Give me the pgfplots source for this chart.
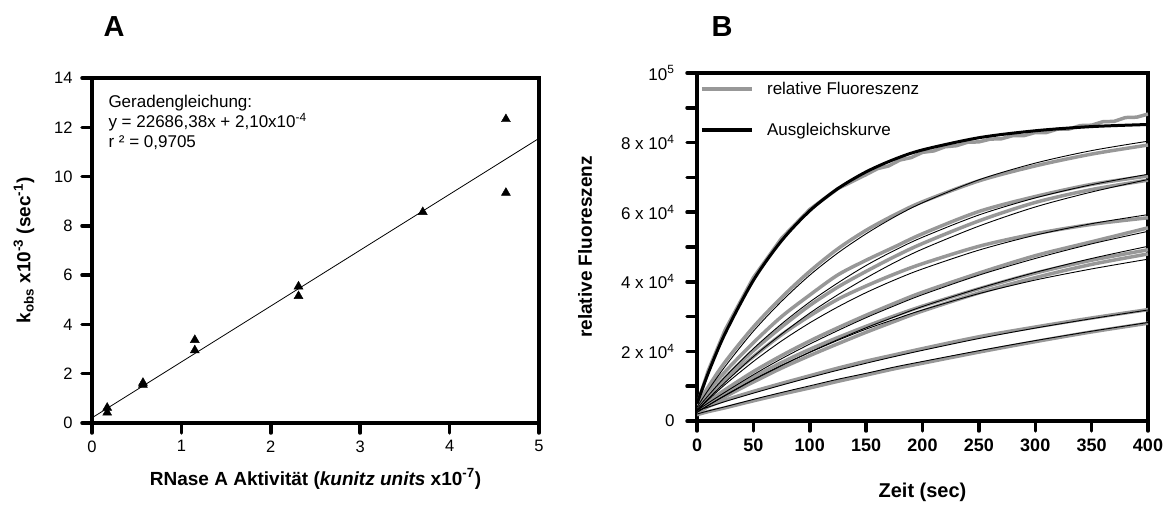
\documentclass[border=0pt]{standalone}
\usepackage{pgfplots}
\usepackage{pgfplotstable}
\pgfplotsset{compat=1.18}
\usepackage{fontspec}
\setmainfont{Liberation Sans}

\newcommand{\fsz}[1]{\fontsize{#1bp}{#1bp}\selectfont}
\definecolor{datagray}{RGB}{152,152,152}

% k_obs against RNase A activity
\pgfplotstableread{
x     y
0.17  0.62
0.17  0.42
0.57  1.63
0.57  1.55
1.15  3.37
1.15  2.95
2.31  5.54
2.31  5.15
3.70  8.56
4.63  12.33
4.63  9.34
}\rateconstants

% fluorescence traces (g) and fitted curves (f), in units of 10^4
\pgfplotstableread{
t    f1   f2   f3   f4   f5   f6   f7   f8   f9   f10  g2   g3   g4   g5   g6   g7   g8   g9   g10
0    0.50 0.40 0.35 0.30 0.30 0.30 0.25 0.25 0.30 0.20 0.45 0.40 0.30 0.30 0.32 0.25 0.22 0.30 0.18
10   1.38 0.89 0.73 0.64 0.61 0.52 0.45 0.45 0.40 0.29 0.98 0.85 0.70 0.68 0.56 0.50 0.42 0.42 0.27
25   2.52 1.57 1.27 1.11 1.05 0.83 0.73 0.74 0.56 0.41 1.70 1.42 1.25 1.18 0.90 0.80 0.70 0.60 0.38
50   4.04 2.58 2.08 1.85 1.71 1.33 1.18 1.19 0.80 0.62 2.70 2.25 2.02 1.85 1.42 1.26 1.12 0.85 0.58
75   5.18 3.44 2.79 2.50 2.30 1.79 1.59 1.60 1.03 0.82 3.55 3.00 2.70 2.48 1.88 1.68 1.52 1.08 0.77
100  6.04 4.19 3.42 3.10 2.82 2.21 1.98 1.97 1.25 1.01 4.30 3.62 3.32 3.02 2.30 2.06 1.88 1.30 0.95
125  6.68 4.83 3.97 3.63 3.28 2.60 2.34 2.32 1.46 1.20 4.95 4.20 3.85 3.50 2.68 2.40 2.22 1.52 1.14
150  7.16 5.38 4.47 4.11 3.69 2.97 2.68 2.64 1.66 1.37 5.48 4.62 4.30 3.88 3.04 2.72 2.55 1.72 1.32
175  7.52 5.86 4.90 4.55 4.05 3.31 2.99 2.92 1.85 1.55 5.92 5.00 4.72 4.22 3.38 3.02 2.86 1.90 1.50
200  7.79 6.27 5.28 4.94 4.37 3.63 3.29 3.19 2.03 1.71 6.30 5.38 5.10 4.52 3.70 3.30 3.16 2.08 1.66
250  8.14 6.93 5.92 5.60 4.91 4.19 3.81 3.66 2.37 2.02 6.90 6.02 5.75 5.02 4.25 3.80 3.68 2.42 1.98
300  8.34 7.41 6.41 6.15 5.34 4.67 4.27 4.05 2.67 2.31 7.33 6.45 6.28 5.38 4.75 4.25 4.12 2.70 2.28
350  8.46 7.77 6.79 6.58 5.67 5.09 4.67 4.37 2.94 2.58 7.67 6.80 6.65 5.65 5.15 4.62 4.50 2.96 2.56
400  8.52 8.04 7.09 6.94 5.93 5.45 5.02 4.65 3.19 2.83 7.93 7.04 6.92 5.84 5.55 4.92 4.80 3.20 2.81
}\kinetics

% fastest trace, recorded more densely
\pgfplotstableread{
t    g
0    0.45
10   1.45
25   2.62
50   4.12
75   5.25
100  6.08
125  6.68
150  7.08
160  7.25
170  7.33
180  7.50
190  7.57
200  7.72
210  7.76
220  7.88
230  7.91
240  8.01
250  8.02
260  8.10
270  8.11
280  8.20
290  8.20
300  8.29
310  8.29
320  8.39
330  8.39
340  8.49
350  8.50
360  8.60
370  8.61
380  8.72
390  8.73
400  8.82
}\fastest

\pgfplotsset{
  panel/.style={
    scale only axis, anchor=south west,
    axis line style={line width=3.5bp},
    tick align=outside, tick pos=left,
    major tick length=10bp,
    tick style={black, line width=3.5bp, line cap=round},
    /pgf/number format/assume math mode=true,
  },
}

\begin{document}
\begin{tikzpicture}

\node[font=\bfseries\fsz{29}, anchor=base] at (114bp,469bp) {A};
\node[font=\bfseries\fsz{29}, anchor=base] at (722bp,469bp) {B};

% Panel A
\begin{axis}[panel, at={(92bp,83bp)}, width=447bp, height=345bp,
  xmin=0, xmax=5, ymin=0, ymax=14,
  xtick={0,1,2,3,4,5}, ytick={0,2,...,14},
  tick label style={font=\fsz{16.5}},
  xticklabel style={yshift=-4bp},
  yticklabel style={xshift=-6bp},
  xlabel={RNase A Aktivität (\textit{kunitz units} x10\textsuperscript{-7})},
  xlabel style={font=\bfseries\fsz{19}, at={(axis description cs:0.5,-0.18)}, anchor=base},
  ylabel={k\textsubscript{obs} x10\textsuperscript{-3} (sec\textsuperscript{-1})},
  ylabel style={font=\bfseries\fsz{19}, at={(axis description cs:-0.152,0.5)}, anchor=center},
]
\addplot[black, line width=0.8bp] coordinates {(0,0.21) (5,11.55)};
\addplot[only marks, mark=triangle*, mark size=5.2bp, black] table {\rateconstants};
\node[anchor=north west, align=left, inner sep=0pt, font={\fontsize{17bp}{20bp}\selectfont}]
  at (axis description cs:0.0365,0.951)
  {Geradengleichung:\\ y = 22686,38x + 2,10x10\textsuperscript{-4}\\ r ² = 0,9705};
\end{axis}

% Panel B
\begin{axis}[panel, at={(697bp,85bp)}, width=451bp, height=348bp,
  xmin=0, xmax=400, ymin=0, ymax=10,
  xtick={0,50,...,400}, ytick={0,1,...,10},
  yticklabels={0,,{2 x 10\textsuperscript{4}},,{4 x 10\textsuperscript{4}},,{6 x 10\textsuperscript{4}},,{8 x 10\textsuperscript{4}},,{10\textsuperscript{5}}},
  xticklabel style={font=\bfseries\fsz{18}, yshift=-4bp},
  yticklabel style={font=\fsz{17}, xshift=-9bp},
  xlabel={Zeit (sec)},
  xlabel style={font=\bfseries\fsz{20}, at={(axis description cs:0.5,-0.221)}, anchor=base},
  ylabel={relative Fluoreszenz},
  ylabel style={font=\bfseries\fsz{19}, at={(axis description cs:-0.248,0.5)}, anchor=center},
]
% measured traces
\addplot[datagray, line width=3.5bp, line join=round] table[x=t, y=g] {\fastest};
\pgfplotsinvokeforeach{2,...,10}{
  \addplot[datagray, line width=3.5bp, smooth] table[x=t, y=g#1] {\kinetics};
}
% fitted curves
\pgfplotsinvokeforeach{2,...,10}{
  \addplot[black, line width=0.9bp, smooth] table[x=t, y=f#1] {\kinetics};
}
\addplot[black, line width=3bp, smooth] table[x=t, y=f1] {\kinetics};

% legend
\draw[datagray, line width=4bp] (axis description cs:0.011,0.954) -- (axis description cs:0.122,0.954);
\node[anchor=base west, inner sep=0pt, font=\fsz{17}] at (axis description cs:0.155,0.937) {relative Fluoreszenz};
\draw[black, line width=3.5bp] (axis description cs:0.011,0.836) -- (axis description cs:0.122,0.836);
\node[anchor=base west, inner sep=0pt, font=\fsz{17}] at (axis description cs:0.155,0.820) {Ausgleichskurve};
\end{axis}

\pgfresetboundingbox
\path[use as bounding box] (0bp,0bp) rectangle (1168bp,506bp);
\end{tikzpicture}
\end{document}
